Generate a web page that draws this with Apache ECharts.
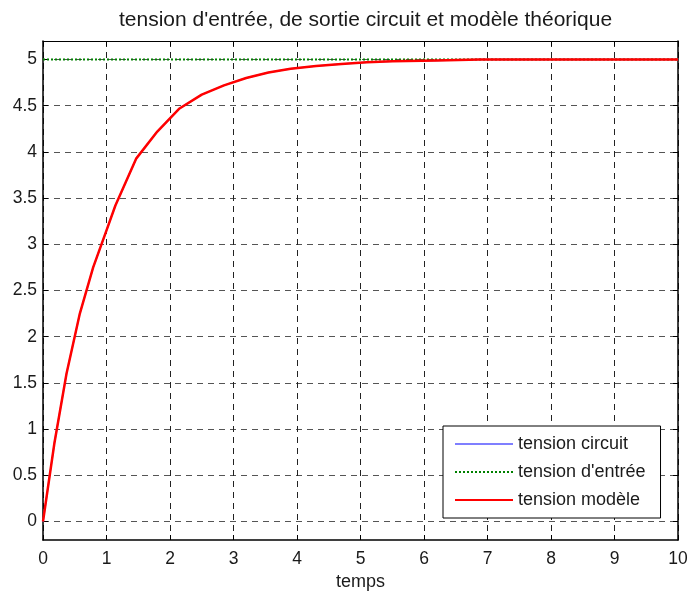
<!DOCTYPE html>
<html>
<head>
<meta charset="utf-8">
<script src="https://cdn.jsdelivr.net/npm/echarts@6/dist/echarts.min.js"></script>
<style>html,body{margin:0;padding:0;background:#fff}#c{width:689px;height:592px}</style>
</head>
<body>
<div id="c"></div>
<script>
const titleText = "tension d'entrée, de sortie circuit et modèle théorique";
const xName = "temps";
const xTicks = [0,1,2,3,4,5,6,7,8,9,10];
const yTicks = [0,0.5,1,1.5,2,2.5,3,3.5,4,4.5,5];
const tModel = [0,0.18,0.37,0.58,0.79,1.0,1.14,1.47,1.8,2.15,2.5,2.85,3.2,3.55,3.9,4.3,4.7,5.1,5.5,6.2,6.88,10];
const vModel = [0,0.85,1.6,2.25,2.75,3.15,3.42,3.93,4.22,4.47,4.62,4.72,4.80,4.86,4.90,4.93,4.95,4.97,4.98,4.99,5.0,5.0];
const vCircuit = vModel.slice();
const tInput = [0,10];
const vInput = [5,5];
const names = ['tension circuit', "tension d'entrée", 'tension modèle'];

const zip = (a,b) => a.map((x,i)=>[x,b[i]]);
const font = 'Liberation Sans, Arial, Helvetica, sans-serif';
const chart = echarts.init(document.getElementById('c'), null, {renderer:'canvas'});
chart.setOption({
  animation:false,
  backgroundColor:'#fff',
  title:{text:titleText,left:360.5,textAlign:'center',top:5,textStyle:{fontFamily:font,fontSize:21,fontWeight:'normal',color:'#1a1a1a'}},
  grid:{left:43,right:11,top:41,bottom:52,containLabel:false,outerBoundsMode:'none'},
  legend:{
    orient:'vertical',left:443,top:426,
    data:names,
    backgroundColor:'#fff',borderColor:'#000',borderWidth:1,borderRadius:0,
    padding:[9,15,9,11],itemWidth:58,itemHeight:14,itemGap:10,
    itemStyle:{opacity:0},
    textStyle:{fontFamily:font,fontSize:18,color:'#1a1a1a'}
  },
  xAxis:[{
    type:'value',min:0,max:10,interval:1,position:'bottom',
    name:xName,nameLocation:'middle',nameGap:32,
    nameTextStyle:{fontFamily:font,fontSize:18,color:'#1a1a1a'},
    axisLine:{show:true,onZero:false,lineStyle:{color:'#000',width:1.5}},
    axisTick:{show:true,inside:true,length:5,lineStyle:{color:'#000'}},
    axisLabel:{fontFamily:font,fontSize:17.5,color:'#1a1a1a',margin:10},
    splitLine:{show:true,lineStyle:{color:'#222',type:[6,5],width:1}}
  },{
    type:'value',min:0,max:10,interval:1,position:'top',
    axisLine:{show:true,onZero:false,lineStyle:{color:'#000',width:1}},
    axisTick:{show:true,inside:true,length:5,lineStyle:{color:'#000'}},
    axisLabel:{show:false},splitLine:{show:false}
  }],
  yAxis:[{
    type:'value',min:-0.2,max:5.2,position:'left',
    axisLine:{show:true,onZero:false,lineStyle:{color:'#000',width:1.5}},
    axisTick:{show:true,inside:true,length:5,customValues:yTicks,lineStyle:{color:'#000'}},
    axisLabel:{fontFamily:font,fontSize:17.5,color:'#1a1a1a',margin:6,customValues:yTicks},
    splitLine:{show:true,lineStyle:{color:'#555',type:[6,5],width:1}}
  },{
    type:'value',min:-0.2,max:5.2,position:'right',
    axisLine:{show:true,onZero:false,lineStyle:{color:'#000',width:1.5}},
    axisTick:{show:true,inside:true,length:5,customValues:yTicks,lineStyle:{color:'#000'}},
    axisLabel:{show:false},splitLine:{show:false}
  }],
  series:[
    {name:names[0],type:'line',data:zip(tModel,vCircuit),symbol:'none',lineStyle:{color:'#7f7fff',width:1.5},itemStyle:{color:'#7f7fff'}},
    {name:names[1],type:'line',data:zip(tInput,vInput),symbol:'none',lineStyle:{color:'#008000',width:2,type:[2,2]},itemStyle:{color:'#008000'}},
    {name:names[2],type:'line',data:zip(tModel,vModel),symbol:'none',lineStyle:{color:'#ff0000',width:2.5},itemStyle:{color:'#ff0000'}}
  ]
});
</script>
</body>
</html>
